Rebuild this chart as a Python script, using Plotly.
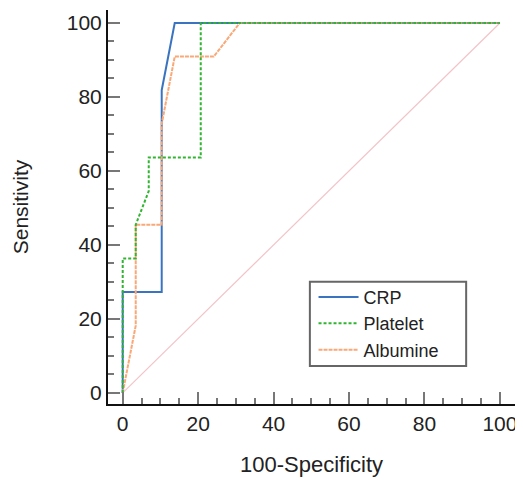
import plotly.graph_objects as go

# ROC curve data (100-Specificity vs Sensitivity)
crp_x = [0, 0, 10.34, 10.34, 13.79, 100]
crp_y = [0, 27.27, 27.27, 81.82, 100, 100]

platelet_x = [0, 0, 3.45, 3.45, 6.90, 6.90, 20.69, 20.69, 100]
platelet_y = [0, 36.36, 36.36, 45.45, 54.55, 63.64, 63.64, 100, 100]

albumine_x = [0, 3.45, 3.45, 10.34, 10.34, 13.79, 24.14, 31.03, 100]
albumine_y = [0, 18.18, 45.45, 45.45, 72.73, 90.91, 90.91, 100, 100]

diag_x = [0, 100]
diag_y = [0, 100]

tick_vals = [0, 20, 40, 60, 80, 100]

FONT = "Liberation Sans, Arial, sans-serif"

fig = go.Figure()
fig.add_trace(go.Scatter(x=diag_x, y=diag_y, mode="lines", showlegend=False,
                         line=dict(color="#f2c4c8", width=1.2), hoverinfo="skip"))
fig.add_trace(go.Scatter(x=crp_x, y=crp_y, mode="lines", name="CRP", legendrank=1,
                         line=dict(color="#3a74c0", width=2)))
fig.add_trace(go.Scatter(x=albumine_x, y=albumine_y, mode="lines", name="Albumine", legendrank=3,
                         line=dict(color="#f9a878", width=2, dash="4px,1px")))
fig.add_trace(go.Scatter(x=platelet_x, y=platelet_y, mode="lines", name="Platelet", legendrank=2,
                         line=dict(color="#2fb52f", width=2, dash="3px,2px")))

axis_common = dict(
    showgrid=False, zeroline=False,
    showline=True, linecolor="#111", linewidth=2,
    ticks="inside", ticklen=12, tickwidth=2, tickcolor="#777",
    tickvals=tick_vals,
    tickfont=dict(family=FONT, size=21, color="#222"),
    minor=dict(ticks="inside", dtick=5, ticklen=6, tickwidth=1.5, tickcolor="#777"),
)

fig.update_layout(
    width=515, height=472,
    margin=dict(l=100, r=8, t=2, b=76),
    plot_bgcolor="white", paper_bgcolor="white",
    font=dict(family=FONT, color="#222"),
    xaxis=dict(range=[-3.9, 104], title=dict(text="100-Specificity", font=dict(size=22, family=FONT, color="#222"), standoff=22),
               **axis_common),
    yaxis=dict(range=[-3, 103.5], title=dict(text="Sensitivity", font=dict(size=21, family=FONT, color="#222"), standoff=32),
               **axis_common),
    legend=dict(x=0.505, y=0.318, xanchor="left", yanchor="top",
                borderwidth=0, bgcolor="rgba(0,0,0,0)",
                font=dict(family=FONT, size=18, color="#222"),
                tracegroupgap=0, itemwidth=40),
    shapes=[dict(type="rect", xref="paper", yref="paper",
                 x0=0.496, x1=0.880, y0=0.0964, y1=0.310,
                 line=dict(color="#666", width=2), fillcolor="white", layer="above")],
    showlegend=True,
)

fig.write_html("out.html")
